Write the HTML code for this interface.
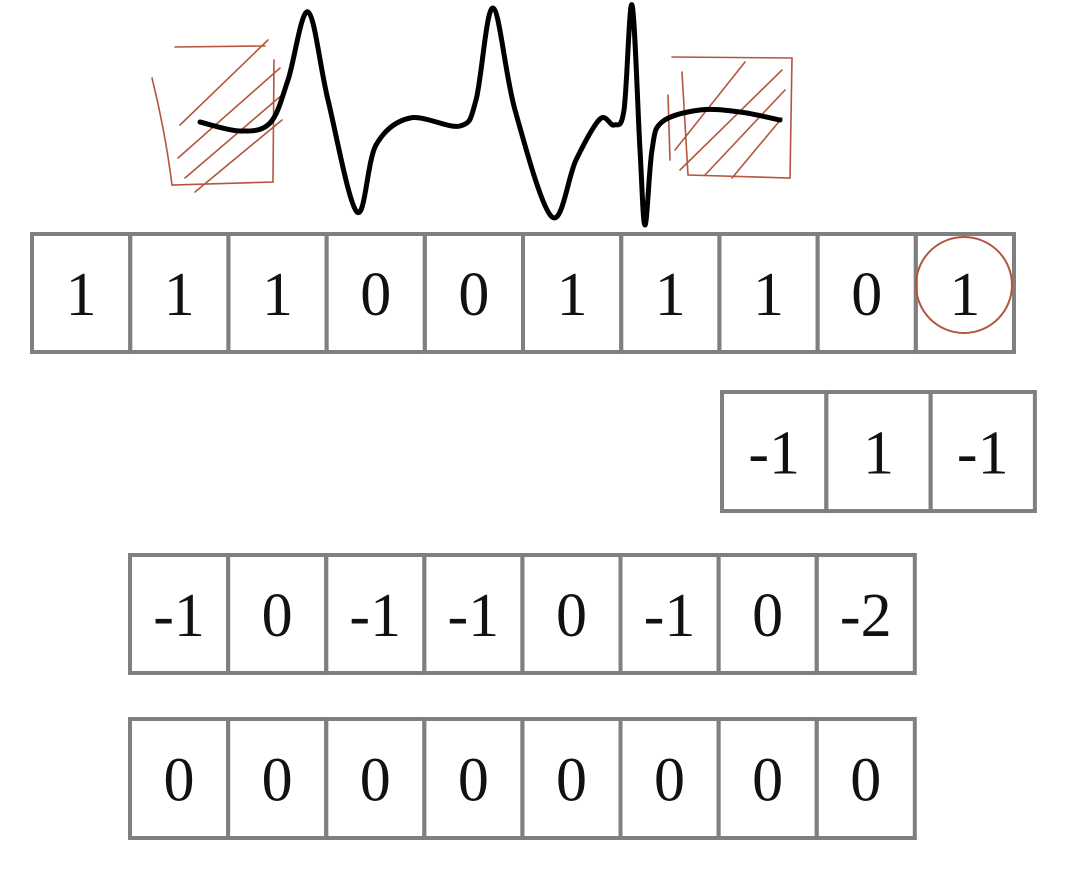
<!DOCTYPE html>
<html><head><meta charset="utf-8"><style>
body{margin:0;background:#fff;width:1090px;height:884px;overflow:hidden}
svg{display:block}
text{font-family:"Liberation Serif",serif;font-size:62px;fill:#111}
</style></head><body>
<svg id="s" width="1090" height="884">
<g id="hatch" fill="none" stroke="#b4553f" stroke-width="1.6" stroke-linecap="round">
<path d="M175 47 L265 46 M152 78 Q165 130 172 185 L273 182 L274 60 M180 125 L268 40 M178 158 L280 68 M185 178 L282 95 M195 192 L282 120"/>
<path d="M682 72 L688 175 L790 178 L792 58 L672 57 M668 95 L670 160 M675 150 L745 62 M680 170 L782 70 M705 175 L785 90 M732 178 L782 118"/>
</g>
<path id="wave" fill="none" stroke="#000" stroke-width="5" stroke-linecap="round" stroke-linejoin="round"/>
<g id="grid"></g>
<circle cx="964" cy="285" r="48" fill="none" stroke="#b4553f" stroke-width="2"/>
</svg>
<script>
const wavePts=[[200,122],[240,131],[270,123],[288,80],[308,12],[328,100],[357,212],[376,145],[410,118],[460,126],[476,100],[493,8],[515,110],[552,217],[576,160],[600,119],[614,125],[624,110],[632,5],[640,150],[645,225],[652,150],[662,122],[700,110],[740,112],[780,120]];
function cr(p){let d=`M${p[0][0]} ${p[0][1]}`;for(let i=0;i<p.length-1;i++){const a=p[i-1]||p[i],b=p[i],c=p[i+1],e=p[i+2]||c;d+=` C${b[0]+(c[0]-a[0])/6} ${b[1]+(c[1]-a[1])/6} ${c[0]-(e[0]-b[0])/6} ${c[1]-(e[1]-b[1])/6} ${c[0]} ${c[1]}`;}return d;}
document.getElementById('wave').setAttribute('d',cr(wavePts));
const row1=["1","1","1","0","0","1","1","1","0","1"];
const row2=["-1","1","-1"];
const row3=["-1","0","-1","-1","0","-1","0","-2"];
const row4=["0","0","0","0","0","0","0","0"];
const rows=[[row1,32,234,98.2,118,'input-row'],[row2,722,392,104.3,119,'kernel-row'],[row3,130,555,98.1,118,'output-row'],[row4,130,719,98.1,119,'zero-row']];
const g=document.getElementById('grid');const NS='http://www.w3.org/2000/svg';
rows.forEach(([vals,x0,y0,w,h,name])=>{
 const grp=document.createElementNS(NS,'g');
 
 
 vals.forEach((v,i)=>{
  const r=document.createElementNS(NS,'rect');
  r.setAttribute('x',x0+i*w);r.setAttribute('y',y0);r.setAttribute('width',w);r.setAttribute('height',h);
  r.setAttribute('fill','none');r.setAttribute('stroke','#7f7f7f');r.setAttribute('stroke-width','4');
  
  
  grp.appendChild(r);
  const t=document.createElementNS(NS,'text');
  t.setAttribute('x',x0+i*w+w/2);t.setAttribute('y',y0+h/2+22);t.setAttribute('text-anchor','middle');
  t.textContent=v;
  
  
  grp.appendChild(t);
 });
 g.appendChild(grp);
});
</script>
</body></html>
